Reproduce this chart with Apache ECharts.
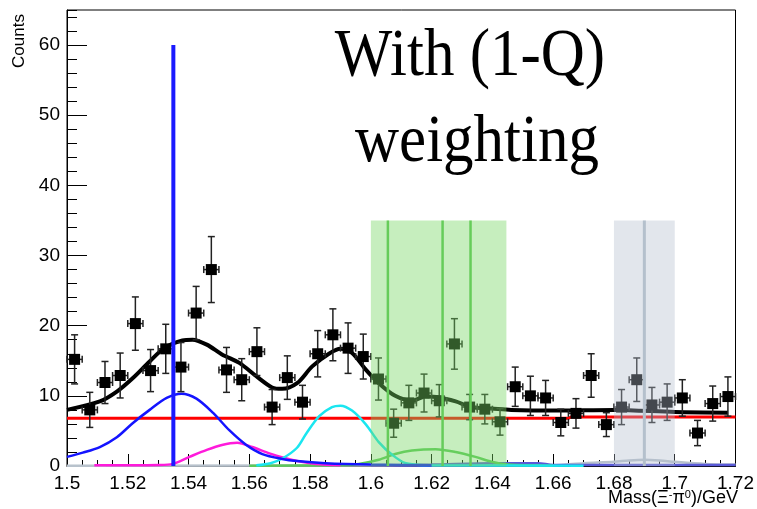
<!DOCTYPE html>
<html>
<head>
<meta charset="utf-8">
<script src="https://cdn.jsdelivr.net/npm/echarts@6/dist/echarts.min.js"></script>
<style>html,body{margin:0;padding:0;background:#fff;}#c{width:757px;height:509px;}</style>
</head>
<body>
<div id="c"></div>
<script>
// ---- data ----
const binCenters = [1.5025,1.5075,1.5125,1.5175,1.5225,1.5275,1.5325,1.5375,1.5425,1.5475,1.5525,1.5575,1.5625,1.5675,1.5725,1.5775,1.5825,1.5875,1.5925,1.5975,1.6025,1.6075,1.6125,1.6175,1.6225,1.6275,1.6325,1.6375,1.6425,1.6475,1.6525,1.6575,1.6625,1.6675,1.6725,1.6775,1.6825,1.6875,1.6925,1.6975,1.7025,1.7075,1.7125,1.7175];
const counts = [15.2,8.0,11.9,12.9,20.3,13.6,16.7,14.1,21.8,28.0,13.7,12.3,16.3,8.4,12.6,9.1,16.0,18.7,16.8,15.6,12.4,6.1,9.0,10.4,9.3,17.4,8.4,8.1,6.3,11.3,10.0,9.7,6.2,7.5,12.9,5.9,8.4,12.3,8.7,9.1,9.7,4.7,8.9,9.9];
const countErrors = [3.5,2.5,3.0,3.2,3.8,3.0,3.5,3.5,3.8,4.7,3.2,3.0,3.4,2.5,3.1,2.4,3.3,3.7,3.6,3.2,3.0,2.0,2.5,2.7,2.3,3.6,1.8,2.1,1.9,2.8,2.8,2.5,1.9,2.1,3.1,1.7,2.5,3.1,2.5,2.6,2.6,1.8,2.5,2.8];
const binHalfWidth = 0.0025;

const totalFitMass   = [1.5,1.5108,1.5164,1.5216,1.5272,1.532,1.538,1.5413,1.546,1.551,1.5567,1.5623,1.5675,1.5708,1.5757,1.5807,1.5862,1.590,1.5938,1.5984,1.6026,1.608,1.6135,1.618,1.6223,1.6279,1.633,1.6397,1.6462,1.66,1.68,1.70,1.7175];
const totalFitCounts = [8.0,9.2,10.6,12.5,14.9,16.8,17.9,18.0,17.3,15.9,14.7,12.8,11.2,11.0,11.8,14.2,16.0,16.7,16.1,13.7,11.8,10.0,9.3,9.9,9.8,9.2,8.4,8.2,8.0,7.9,8.0,7.7,7.6];

const bkgMass   = [1.5,1.665,1.666,1.72];
const bkgCounts = [6.8,6.8,7.0,7.0];

const blueMass   = [1.5,1.5052,1.5108,1.5164,1.5216,1.5272,1.5328,1.5377,1.5426,1.548,1.5534,1.559,1.5643,1.5708,1.5757,1.585,1.60,1.62];
const blueCounts = [1.3,1.9,2.7,4.1,6.1,8.0,9.7,10.3,9.6,7.6,5.1,3.0,1.7,1.0,0.7,0.4,0.2,0.1];

const magentaMass   = [1.509,1.53,1.5348,1.5403,1.546,1.551,1.556,1.561,1.5666,1.572,1.5757,1.582,1.59];
const magentaCounts = [0.1,0.15,0.3,1.3,2.3,3.0,3.3,2.7,1.8,1.1,0.7,0.3,0.1];

const cyanMass   = [1.5623,1.567,1.571,1.5757,1.5787,1.583,1.5872,1.590,1.5938,1.5984,1.6026,1.607,1.6115,1.62,1.67];
const cyanCounts = [0.1,0.4,1.1,2.6,4.6,7.1,8.4,8.6,7.9,5.9,3.4,1.6,0.4,0.1,0.05];

const greenMass   = [1.56,1.59,1.596,1.6026,1.608,1.6135,1.6213,1.6279,1.6344,1.6397,1.6452,1.66];
const greenCounts = [0.05,0.1,0.3,0.9,1.7,2.2,2.4,2.0,1.3,0.6,0.2,0.05];

const grayMass   = [1.5,1.66,1.67,1.68,1.685,1.69,1.695,1.70,1.71,1.72];
const grayCounts = [0.05,0.1,0.4,0.6,0.8,0.9,0.8,0.6,0.3,0.2];

const slateMass   = [1.6,1.62,1.64,1.655,1.66,1.72];
const slateCounts = [0.1,0.2,0.4,0.4,0.15,0.15];

const blueMarkerMass = 1.535, blueMarkerTop = 60;
const greenBand = [1.600, 1.6446, 35];
const greenBandLines = [1.6056, 1.6236, 1.6328];
const grayBand = [1.680, 1.700, 35];
const grayBandLines = [1.690];

const xTicks = {min:1.5, max:1.72, interval:0.02};
const yTicks = {min:0, max:65, interval:10, minorInterval:2};

// ---- helpers ----
function pairs(xs, ys){ return xs.map((x,i)=>[x, ys[i]]); }

function curve(name, xs, ys, color, width, z){
  return {name, type:'line', data:pairs(xs,ys), showSymbol:false, smooth:0.3,
    lineStyle:{color, width}, z: z||2, silent:true, animation:false};
}
function vline(name, x, top, color, width, z){
  return {name, type:'line', data:[[x,0],[x,top]], showSymbol:false,
    lineStyle:{color, width}, z: z||6, silent:true, animation:false};
}

const chart = echarts.init(document.getElementById('c'), null, {renderer:'canvas'});
const labelFont = {fontFamily:'Liberation Sans, Arial, sans-serif', fontSize:19, color:'#000'};

const series = [
  curve('background', bkgMass, bkgCounts, '#ff0000', 3, 2),
  curve('gray', grayMass, grayCounts, '#b8c2cc', 2.5, 2),
  curve('slate', slateMass, slateCounts, '#5a5ad8', 2.5, 2),
  curve('green', greenMass, greenCounts, '#5cc85a', 2.5, 2),
  curve('magenta', magentaMass, magentaCounts, '#ff1adb', 2.5, 2),
  curve('cyan', cyanMass, cyanCounts, '#1ae6f0', 2.5, 2),
  curve('blue', blueMass, blueCounts, '#1414ff', 2.5, 2),
  curve('total', totalFitMass, totalFitCounts, '#000000', 4, 3),
  {
    name:'data', type:'custom', z:4, animation:false,
    data: binCenters.map((x,i)=>[x, counts[i], countErrors[i]]),
    renderItem: function(params, api){
      const x = api.value(0), y = api.value(1), e = api.value(2);
      const c = api.coord([x, y]);
      const l = api.coord([x - binHalfWidth, y]);
      const r = api.coord([x + binHalfWidth, y]);
      const t = api.coord([x, y + e]);
      const b = api.coord([x, y - e]);
      const s = {stroke:'#222', lineWidth:1.5};
      const cap = 3.5, sq = 11;
      return {type:'group', children:[
        {type:'line', shape:{x1:c[0],y1:t[1],x2:c[0],y2:b[1]}, style:s},
        {type:'line', shape:{x1:c[0]-cap,y1:t[1],x2:c[0]+cap,y2:t[1]}, style:s},
        {type:'line', shape:{x1:c[0]-cap,y1:b[1],x2:c[0]+cap,y2:b[1]}, style:s},
        {type:'line', shape:{x1:l[0],y1:c[1],x2:r[0],y2:c[1]}, style:s},
        {type:'line', shape:{x1:l[0],y1:c[1]-cap,x2:l[0],y2:c[1]+cap}, style:s},
        {type:'line', shape:{x1:r[0],y1:c[1]-cap,x2:r[0],y2:c[1]+cap}, style:s},
        {type:'rect', shape:{x:c[0]-sq/2,y:c[1]-sq/2,width:sq,height:sq}, style:{fill:'#000'}}
      ]};
    }
  },
  {
    name:'bands', type:'custom', z:5, animation:false,
    data: [[greenBand[0], greenBand[1], greenBand[2]], [grayBand[0], grayBand[1], grayBand[2]]],
    renderItem: function(params, api){
      const p1 = api.coord([api.value(0), api.value(2)]);
      const p2 = api.coord([api.value(1), 0]);
      const isGreen = params.dataIndex === 0;
      return {type:'rect', shape:{x:p1[0], y:p1[1], width:p2[0]-p1[0], height:p2[1]-p1[1]},
        style:{fill: isGreen ? 'rgba(120,215,100,0.42)' : 'rgba(180,190,205,0.38)'}};
    }
  },
  vline('blueMarker', blueMarkerMass, blueMarkerTop, '#1a1aff', 4, 7),
  ...greenBandLines.map((x,i)=>vline('g'+i, x, greenBand[2], '#66cc5a', 2.5, 6)),
  ...grayBandLines.map((x,i)=>vline('k'+i, x, grayBand[2], '#b4c0cc', 3, 6))
];

chart.setOption({
  animation:false,
  backgroundColor:'#fff',
  grid:{left:67, right:19, top:10, bottom:43, show:true, borderColor:'#000', borderWidth:1, containLabel:false},
  xAxis:{
    type:'value', min:xTicks.min, max:xTicks.max, interval:xTicks.interval,
    axisLine:{show:true, lineStyle:{color:'#000', width:1}},
    axisTick:{show:true, inside:true, length:12, lineStyle:{color:'#000', width:1}},
    minorTick:{show:true, splitNumber:4, length:6, lineStyle:{color:'#000', width:1}},
    splitLine:{show:false}, minorSplitLine:{show:false},
    axisLabel:Object.assign({margin:8}, labelFont)
  },
  yAxis:[{
    type:'value', min:yTicks.min, max:yTicks.max, interval:yTicks.interval,
    axisLine:{show:true, lineStyle:{color:'#000', width:1}},
    axisTick:{show:true, inside:true, length:20, lineStyle:{color:'#000', width:1}},
    splitLine:{show:false},
    axisLabel:Object.assign({margin:7, showMaxLabel:false}, labelFont)
  },{
    type:'value', min:yTicks.min, max:yTicks.max, interval:yTicks.minorInterval, position:'left',
    axisLine:{show:false},
    axisTick:{show:true, inside:true, length:10, lineStyle:{color:'#000', width:1}},
    splitLine:{show:false}, axisLabel:{show:false}
  }],
  graphic:[
    {type:'text', x:470, y:23, scaleY:1.12, silent:true, z:10,
     style:{text:'With (1-Q)', font:'61px "Liberation Serif", "Times New Roman", serif', fill:'#000', textAlign:'center', textVerticalAlign:'top'}},
    {type:'text', x:477, y:109, scaleY:1.12, silent:true, z:10,
     style:{text:'weighting', font:'61px "Liberation Serif", "Times New Roman", serif', fill:'#000', textAlign:'center', textVerticalAlign:'top'}},
    {type:'text', x:11, y:41, rotation:Math.PI/2, silent:true,
     style:{text:'Counts', font:'17px "Liberation Sans", Arial, sans-serif', fill:'#000', textAlign:'center', textVerticalAlign:'top'}},
    {type:'text', x:738, y:489, silent:true,
     style:{text:'Mass(Ξ{sup|-}π{sup|0})/GeV', fill:'#000', align:'right', verticalAlign:'top',
       font:'18px "Liberation Sans", Arial, sans-serif',
       rich:{sup:{fontSize:11, fontFamily:'Liberation Sans, Arial, sans-serif', verticalAlign:'top', lineHeight:18}}}}
  ],
  series: series
});
</script>
</body>
</html>
